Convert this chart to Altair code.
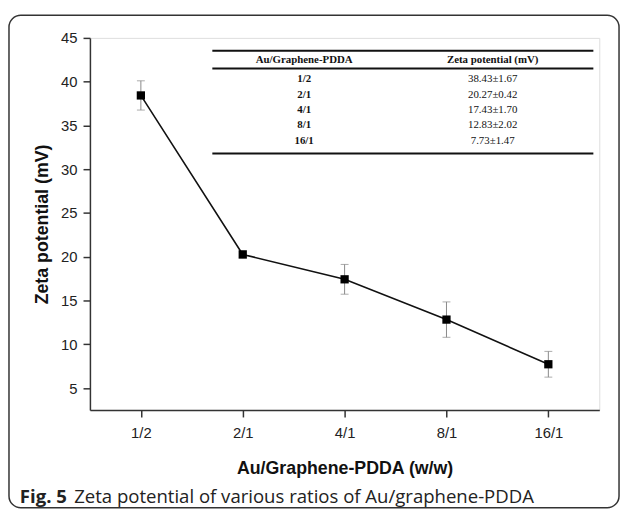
import altair as alt
import pandas as pd

ratios = ["1/2", "2/1", "4/1", "8/1", "16/1"]
zeta = [38.43, 20.27, 17.43, 12.83, 7.73]
err = [1.67, 0.42, 1.70, 2.02, 1.47]

df = pd.DataFrame({
    "idx": list(range(len(ratios))),
    "ratio": ratios,
    "zeta": zeta,
    "lo": [z - e for z, e in zip(zeta, err)],
    "hi": [z + e for z, e in zip(zeta, err)],
    "txt": [f"{z:.2f}\u00b1{e:.2f}" for z, e in zip(zeta, err)],
})

label_expr = "[" + ",".join(f"'{r}'" for r in ratios) + "][datum.value]"

xs = alt.Scale(domain=[-0.5, 4.5], nice=False, zero=False)
ys = alt.Scale(domain=[2.5, 45], nice=False, zero=False)

AX = dict(domainColor="#333", domainWidth=1.5, tickColor="#333", tickWidth=1.5,
          labelFont="Liberation Sans", labelFontSize=15, labelColor="#222",
          titleFont="Liberation Sans", titleFontSize=18, titleFontWeight="bold",
          titleColor="#111", grid=False)

x_enc = alt.X("idx:Q", scale=xs, axis=alt.Axis(
    values=[0, 1, 2, 3, 4], labelExpr=label_expr, tickSize=7, labelPadding=9,
    title="Au/Graphene-PDDA (w/w)", titlePadding=19, **AX))
y_enc = alt.Y("zeta:Q", scale=ys, axis=alt.Axis(
    values=[5 + 2.5 * i for i in range(17)],
    labelExpr="datum.value % 5 === 0 ? datum.label : ''",
    tickSize={"condition": {"test": "datum.value % 5 === 0", "value": 7}, "value": 4},
    labelPadding=6, title="Zeta potential (mV)", titlePadding=9, **AX))

base = alt.Chart(df)

err_rule = base.mark_rule(color="#888", strokeWidth=1).encode(
    x=alt.X("idx:Q", scale=xs), y=alt.Y("lo:Q", scale=ys), y2="hi:Q")
cap_lo = base.mark_tick(color="#888", thickness=1, size=8, orient="horizontal").encode(
    x=alt.X("idx:Q", scale=xs), y=alt.Y("lo:Q", scale=ys))
cap_hi = base.mark_tick(color="#888", thickness=1, size=8, orient="horizontal").encode(
    x=alt.X("idx:Q", scale=xs), y=alt.Y("hi:Q", scale=ys))
line = base.mark_line(color="#111", strokeWidth=1.6).encode(x=x_enc, y=y_enc)
pts = base.mark_point(shape="square", filled=True, color="#000", size=70, opacity=1).encode(
    x=alt.X("idx:Q", scale=xs), y=alt.Y("zeta:Q", scale=ys))

# inset table
tbl_lines = pd.DataFrame({"ly": [13, 31, 117]})
tlines = alt.Chart(tbl_lines).mark_rule(color="#111", strokeWidth=2).encode(
    x=alt.value(124), x2=alt.value(510), y=alt.Y("ly:Q", scale=None))
hdr = pd.DataFrame({"hx": [217, 408], "ht": ["Au/Graphene-PDDA", "Zeta potential (mV)"]})
thdr = alt.Chart(hdr).mark_text(font="Liberation Serif", fontSize=11, fontWeight="bold",
                                color="#111", baseline="middle").encode(
    x=alt.X("hx:Q", scale=None), y=alt.value(22), text="ht:N")
rows1 = base.mark_text(font="Liberation Serif", fontSize=11, fontWeight="bold",
                       color="#111", baseline="middle").transform_calculate(
    ry="42 + datum.idx * 15.5").encode(
    x=alt.value(217), y=alt.Y("ry:Q", scale=None), text="ratio:N")
rows2 = base.mark_text(font="Liberation Serif", fontSize=11, color="#111",
                       baseline="middle").transform_calculate(
    ry="42 + datum.idx * 15.5").encode(
    x=alt.value(408), y=alt.Y("ry:Q", scale=None), text="txt:N")

# figure frame and caption
frame = alt.Chart(pd.DataFrame({"a": [0]})).mark_rect(
    fill=None, stroke="#333", strokeWidth=1.5, cornerRadius=12).encode(
    x=alt.value(-82), x2=alt.value(536), y=alt.value(-23), y2=alt.value(476))
cap1 = alt.Chart(pd.DataFrame({"t": ["Fig. 5"]})).mark_text(
    font="Open Sans", fontSize=18.8, fontWeight="bold", color="#222", align="left",
    baseline="middle").encode(x=alt.value(-71), y=alt.value(465), text="t:N")
cap2 = alt.Chart(pd.DataFrame({"t": ["Zeta potential of various ratios of Au/graphene-PDDA"]})).mark_text(
    font="Open Sans", fontSize=18.8, color="#222", align="left",
    baseline="middle").encode(x=alt.value(-16), y=alt.value(465), text="t:N")

chart = alt.layer(frame, err_rule, cap_lo, cap_hi, line, pts, tlines, thdr, rows1, rows2,
                  cap1, cap2).properties(
    width=516, height=377,
    autosize=alt.AutoSizeParams(type="none"),
    padding={"left": 83, "top": 27, "right": 22, "bottom": 101},
).configure_view(stroke="#333", strokeWidth=1.5).configure(background="white")

chart.save("out.html", embed_options={"renderer": "svg", "actions": False})
